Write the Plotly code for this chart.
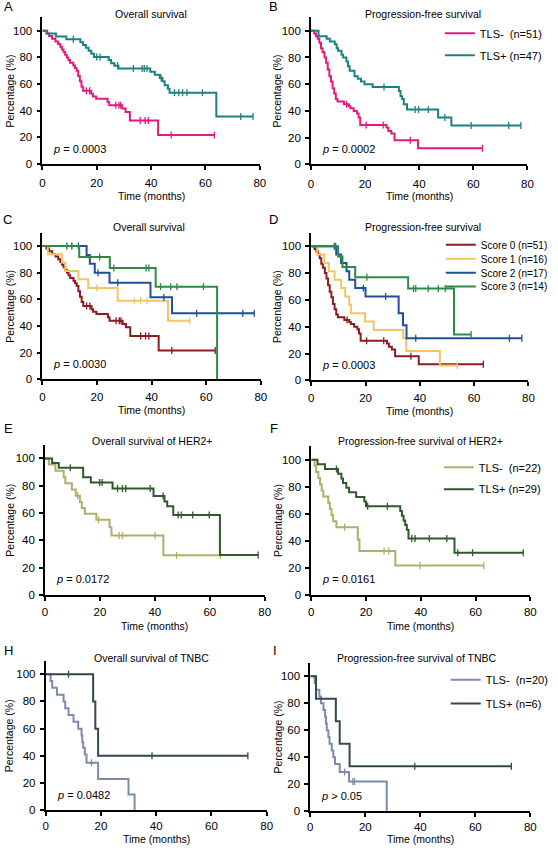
import plotly.graph_objects as go

# ---------------- data ----------------
# Overall survival, TLS- (= Score 0)
os_s0_t = [0, 1.5, 2.5, 3.6, 4.8, 5.8, 6.6, 7.2, 7.8, 8.4, 9.0, 9.6, 10.2, 11.4, 12.0, 12.6, 13.2, 13.8, 14.4, 15.0,
           18.0, 18.6, 19.8, 24.0, 24.6, 29.4, 30.6, 32.2, 42.6]
os_s0_s = [100, 98, 96, 94, 92, 90, 88, 86, 84, 82, 80, 78, 76, 74, 72, 70, 66, 62, 58, 55,
           52.6, 50.6, 49, 46.5, 44, 41.5, 39, 32.5, 21.6]
os_s0_c = [16.2, 17.4, 27.0, 28.2, 28.8, 36.0, 37.8, 39.0, 47.4, 63.3]
os_s0_end = 63.3

# Overall survival, TLS+
os_p_t = [0, 1.8, 5.0, 8.8, 14.0, 15.0, 16.0, 17.0, 18.0, 19.0, 24.4, 25.3, 26.5, 28.0, 39.7, 41.4, 43.2, 44.2,
          45.0, 46.2, 46.8, 64.0]
os_p_s = [100, 97.9, 95.7, 93.6, 91.4, 89.3, 87.2, 85.0, 82.7, 80.3, 78.0, 75.6, 73.8, 71.6, 69.3, 66.9, 64.5, 62.0,
          59.0, 56.5, 53.5, 35.6]
os_p_c = [11.4, 20.0, 21.2, 27.7, 33.5, 36.7, 37.5, 38.5, 43.7, 48.6, 50.2, 51.6, 53.2, 58.9, 73.0, 77.5]
os_p_end = 77.5

# PFS, TLS- (= Score 0)
pfs_s0_t = [0, 1.2, 1.9, 2.5, 3.1, 3.7, 4.3, 5.0, 5.6, 6.2, 6.8, 7.4, 8.0, 8.6, 9.2, 9.8, 12.2, 14.0, 14.6, 15.8,
            17.0, 17.6, 18.2, 27.9, 28.6, 29.7, 30.9, 39.6]
pfs_s0_s = [100, 98, 96, 94, 91, 87, 84, 80, 76, 71, 66, 62, 57, 53, 49, 47, 45, 43.5, 42, 40,
            38, 35, 29.5, 27.5, 25, 23, 18, 12]
pfs_s0_c = [13.2, 20.4, 26.7, 36.7, 63.4]
pfs_s0_end = 63.4

# PFS, TLS+
pfs_p_t = [0, 2.8, 5.8, 7.0, 8.8, 9.5, 10.0, 11.3, 11.9, 13.1, 13.7, 14.3, 16.1, 17.3, 18.5, 19.8, 22.8, 32.5,
           33.1, 33.7, 34.3, 35.5, 47.0, 51.9]
pfs_p_s = [100, 96, 94, 92, 90, 87, 85, 82, 80, 77, 73.5, 70, 66, 64, 62, 60, 58, 55,
           51, 49, 45, 41, 35, 29]
pfs_p_c = [27.0, 38.5, 39.8, 43.4, 49.5, 59.2, 73.1, 77.6]
pfs_p_end = 77.6

# OS by score
os_s1_t = [0, 2.0, 7.2, 8.4, 13.2, 16.8, 27.6, 46.0]
os_s1_s = [100, 93.8, 87.5, 81.3, 75.0, 68.5, 59.0, 44.0]
os_s1_c = [19.9, 33.6, 36.0, 38.4, 54.0]
os_s1_end = 54.0

os_s2_t = [0, 16.2, 17.4, 19.2, 24.6, 39.6, 47.5]
os_s2_s = [100, 93.3, 86.6, 80.0, 72.5, 61.5, 49.5]
os_s2_c = [9.0, 10.8, 13.2, 20.4, 27.6, 44.5, 56.5, 73.4, 77.6]
os_s2_end = 77.6

os_s3_t = [0, 13.5, 24.7, 41.5, 64.0]
os_s3_s = [100, 91.7, 83.4, 69.5, 0]
os_s3_c = [21.0, 26.2, 38.0, 39.0, 43.3, 47.0, 49.3, 59.0]
os_s3_end = 64.0

# PFS by score
pfs_s1_t = [0, 2.2, 4.8, 6.5, 8.6, 11.0, 12.5, 14.0, 14.6, 19.8, 23.0, 33.9, 35.0, 47.4]
pfs_s1_s = [100, 93.8, 87.5, 81.3, 75.0, 68.8, 62.5, 56.3, 50.0, 43.8, 37.5, 31.3, 21.9, 11.0]
pfs_s1_c = [53.8]
pfs_s1_end = 53.8

pfs_s2_t = [0, 9.2, 11.0, 13.0, 14.0, 16.2, 20.0, 32.2, 33.8, 35.1]
pfs_s2_s = [100, 93.8, 87.5, 81.3, 75.0, 68.8, 62.5, 50.0, 41.0, 31.3]
pfs_s2_c = [8.5, 19.2, 27.4, 38.5, 73.0, 77.6]
pfs_s2_end = 77.6

pfs_s3_t = [0, 9.9, 11.5, 16.2, 35.7, 52.6]
pfs_s3_s = [100, 92.3, 84.6, 76.9, 68.4, 34.2]
pfs_s3_c = [9.0, 20.5, 37.7, 38.5, 43.1, 46.8, 49.4, 58.9]
pfs_s3_end = 58.9

# HER2+ OS
her_os_n_t = [0, 1.4, 3.8, 6.8, 7.4, 9.8, 11.2, 12.7, 13.4, 14.5, 18.7, 23.5, 24.2, 43.1]
her_os_n_s = [100, 95.5, 90.9, 86.4, 81.8, 77.3, 72.7, 68.0, 63.7, 59.5, 55.0, 49.5, 43.5, 29.0]
her_os_n_c = [11.9, 19.5, 27.0, 28.2, 40.1, 47.9, 63.9]
her_os_n_end = 63.9

her_os_p_t = [0, 2.6, 5.0, 13.9, 16.7, 24.6, 39.5, 43.5, 44.5, 46.7, 63.7]
her_os_p_s = [100, 96.6, 93.1, 86.2, 82.4, 78.0, 72.5, 68.5, 65.0, 58.5, 29.2]
her_os_p_c = [9.2, 19.9, 20.8, 26.4, 28.2, 29.4, 38.3, 43.0, 48.5, 49.6, 53.8, 59.8, 77.6]
her_os_p_end = 77.6

# HER2+ PFS
her_pfs_n_t = [0, 1.2, 1.8, 2.6, 3.2, 3.8, 4.4, 6.2, 6.8, 7.4, 8.0, 9.2, 17.0, 17.6, 30.7]
her_pfs_n_s = [100, 95.5, 90.9, 86.4, 81.8, 77.3, 72.7, 68.2, 63.6, 59.1, 54.5, 50.0, 41.0, 32.5, 21.7]
her_pfs_n_c = [12.2, 26.6, 28.3, 39.7, 63.0]
her_pfs_n_end = 63.0

her_pfs_p_t = [0, 2.3, 5.0, 9.8, 11.0, 11.6, 12.8, 13.8, 16.4, 19.4, 20.0, 32.5, 33.1, 33.7, 34.3, 34.9, 35.5, 52.3]
her_pfs_p_s = [100, 96.6, 93.1, 89.7, 86.2, 82.8, 79.3, 75.9, 72.4, 69.0, 65.5, 62.0, 58.6, 55.1, 51.7, 48.2, 41.6, 31.2]
her_pfs_p_c = [9.2, 20.6, 27.8, 36.7, 37.9, 43.1, 49.5, 53.5, 58.9, 77.4]
her_pfs_p_end = 77.4

# TNBC OS
tn_os_n_t = [0, 1.8, 2.4, 4.1, 6.5, 7.1, 8.3, 10.1, 11.8, 13.0, 13.3, 13.6, 14.2, 14.8, 19.0, 30.0, 32.2]
tn_os_n_s = [100, 95, 90, 85, 80, 75, 70, 65, 60, 55, 50, 46, 41, 35, 23, 11.5, 0]
tn_os_n_c = [16.6]
tn_os_n_end = 32.2

tn_os_p_t = [0, 17.2, 18.0, 19.0]
tn_os_p_s = [100, 80, 60, 40]
tn_os_p_c = [8.3, 38.5, 73.2]
tn_os_p_end = 73.2

# TNBC PFS
tn_pfs_n_t = [0, 1.6, 2.1, 3.3, 3.9, 4.8, 5.4, 5.7, 6.0, 6.6, 7.0, 7.8, 8.4, 9.0, 10.7, 14.1, 27.8]
tn_pfs_n_s = [100, 95, 90, 85, 80, 75, 70, 65, 60, 55, 50, 45, 40, 35, 29, 22, 0]
tn_pfs_n_c = [12.5, 15.5, 16.1]
tn_pfs_n_end = 27.8

tn_pfs_p_t = [0, 2.1, 9.3, 10.7, 14.3]
tn_pfs_p_s = [100, 83.3, 66.7, 50.0, 33.3]
tn_pfs_p_c = [38.0, 73.1]
tn_pfs_p_end = 73.1

x_ticks = [0, 20, 40, 60, 80]
y_ticks = [0, 20, 40, 60, 80, 100]

# ---------------- style ----------------
FONT = "Liberation Sans, Arial, sans-serif"
W, H = 558, 853
PINK, TEAL = "#E4197C", "#1F8080"
S0, S1, S2, S3 = "#8C1C1F", "#F5C463", "#1F4F9A", "#2E8B45"
KHAKI, DGREEN = "#B0AE6A", "#2F5A2B"
GREYBLUE, SLATE = "#7D8AA8", "#34484C"


def px(x):
    return x / W


def py(y):
    return 1 - y / H


def step_at(t, s, c):
    v = s[0]
    for ti, si in zip(t, s):
        if ti <= c:
            v = si
        else:
            break
    return v


panels = [
    dict(letter="A", lxy=(6, 7), x0=40, x1=261, yb=165, y100=31, title="Overall survival", txy=(150, 14),
         p="<i>p</i> = 0.0003", xt=197, so=4, ytx=7, legend=None,
         curves=[("TLS-\u00a0 (n=51)", os_s0_t, os_s0_s, os_s0_c, os_s0_end, PINK),
                 ("TLS+ (n=47)", os_p_t, os_p_s, os_p_c, os_p_end, TEAL)]),
    dict(letter="B", lxy=(275, 7), x0=313, x1=533, yb=165.5, y100=31, title="Progression-free survival",
         txy=(427, 14), p="<i>p</i> = 0.0002", xt=197, so=4, ytx=278,
         legend=dict(x=484, rows=[32, 54], size=11),
         curves=[("TLS-\u00a0 (n=51)", pfs_s0_t, pfs_s0_s, pfs_s0_c, pfs_s0_end, PINK),
                 ("TLS+ (n=47)", pfs_p_t, pfs_p_s, pfs_p_c, pfs_p_end, TEAL)]),
    dict(letter="C", lxy=(5, 221), x0=40, x1=262, yb=382, y100=247.7, title="Overall survival", txy=(148, 229),
         p="<i>p</i> = 0.0030", xt=413, so=2, ytx=7, legend=None,
         curves=[("Score 0 (n=51)", os_s0_t, os_s0_s, os_s0_c, os_s0_end, S0),
                 ("Score 1 (n=16)", os_s1_t, os_s1_s, os_s1_c, os_s1_end, S1),
                 ("Score 2 (n=17)", os_s2_t, os_s2_s, os_s2_c, os_s2_end, S2),
                 ("Score 3 (n=14)", os_s3_t, os_s3_s, os_s3_c, os_s3_end, S3)]),
    dict(letter="D", lxy=(275, 221), x0=313.3, x1=534, yb=383, y100=248, title="Progression-free survival",
         txy=(427, 229), p="<i>p</i> = 0.0003", xt=414, so=2, ytx=278,
         legend=dict(x=485, rows=[245, 259, 273, 287], size=10),
         curves=[("Score 0 (n=51)", pfs_s0_t, pfs_s0_s, pfs_s0_c, pfs_s0_end, S0),
                 ("Score 1 (n=16)", pfs_s1_t, pfs_s1_s, pfs_s1_c, pfs_s1_end, S1),
                 ("Score 2 (n=17)", pfs_s2_t, pfs_s2_s, pfs_s2_c, pfs_s2_end, S2),
                 ("Score 3 (n=14)", pfs_s3_t, pfs_s3_s, pfs_s3_c, pfs_s3_end, S3)]),
    dict(letter="E", lxy=(6, 432), x0=42.7, x1=266, yb=599, y100=461.7, title="Overall survival of HER2+",
         txy=(152, 444), p="<i>p</i> = 0.0172", xt=630, so=2, ytx=7, legend=None,
         curves=[("TLS-\u00a0 (n=22)", her_os_n_t, her_os_n_s, her_os_n_c, her_os_n_end, KHAKI),
                 ("TLS+ (n=29)", her_os_p_t, her_os_p_s, her_os_p_c, her_os_p_end, DGREEN)]),
    dict(letter="F", lxy=(275, 432), x0=313.3, x1=536, yb=599, y100=463, title="Progression-free survival of HER2+",
         txy=(424, 444), p="<i>p</i> = 0.0161", xt=630, so=2, ytx=279,
         legend=dict(x=483, rows=[469, 491], size=11),
         curves=[("TLS-\u00a0 (n=22)", her_pfs_n_t, her_pfs_n_s, her_pfs_n_c, her_pfs_n_end, KHAKI),
                 ("TLS+ (n=29)", her_pfs_p_t, her_pfs_p_s, her_pfs_p_c, her_pfs_p_end, DGREEN)]),
    dict(letter="H", lxy=(6, 655), x0=43.3, x1=268, yb=816, y100=679, title="Overall survival of TNBC",
         txy=(151, 663), p="<i>p</i> = 0.0482", xt=845, so=0, ytx=7, legend=None,
         curves=[("TLS-\u00a0 (n=20)", tn_os_n_t, tn_os_n_s, tn_os_n_c, tn_os_n_end, GREYBLUE),
                 ("TLS+ (n=6)", tn_os_p_t, tn_os_p_s, tn_os_p_c, tn_os_p_end, SLATE)]),
    dict(letter="I", lxy=(276, 655), x0=312.3, x1=536, yb=817, y100=681, title="Progression-free survival of TNBC",
         txy=(421, 663), p="<i>p</i> > 0.05", xt=845, so=0, ytx=279,
         legend=dict(x=490, rows=[683, 707], size=11),
         curves=[("TLS-\u00a0 (n=20)", tn_pfs_n_t, tn_pfs_n_s, tn_pfs_n_c, tn_pfs_n_end, GREYBLUE),
                 ("TLS+ (n=6)", tn_pfs_p_t, tn_pfs_p_s, tn_pfs_p_c, tn_pfs_p_end, SLATE)]),
]

fig = go.Figure()
annotations = []
layout = dict(
    width=W, height=H, autosize=False,
    margin=dict(l=0, r=0, t=0, b=0),
    paper_bgcolor="white", plot_bgcolor="white",
    font=dict(family=FONT, size=11, color="black"),
    showlegend=True,
)

legend_count = 0
for i, pnl in enumerate(panels, start=1):
    xa = "x" if i == 1 else f"x{i}"
    ya = "y" if i == 1 else f"y{i}"
    ytop = pnl["yb"] - 1.1 * (pnl["yb"] - pnl["y100"])
    axis_common = dict(showline=True, linecolor="black", linewidth=1.6, ticks="outside", ticklen=4,
                       tickwidth=1.6, tickcolor="black", showgrid=False, zeroline=False,
                       tickfont=dict(family=FONT, size=11.5, color="black"), fixedrange=True)
    layout["xaxis" if i == 1 else f"xaxis{i}"] = dict(
        domain=[px(pnl["x0"]), px(pnl["x1"])], range=[0, 80], tickvals=x_ticks,
        anchor=ya, ticklabelstandoff=pnl["so"], **axis_common)
    layout["yaxis" if i == 1 else f"yaxis{i}"] = dict(
        domain=[py(pnl["yb"]), py(ytop)], range=[0, 110], tickvals=y_ticks,
        anchor=xa, ticklabelstandoff=2, **axis_common)

    leg = pnl["legend"]
    for k, (name, t, s, cens, end, color) in enumerate(pnl["curves"]):
        xs = list(t)
        ys = list(s)
        if end > t[-1]:
            xs.append(end)
            ys.append(s[-1])
        tr = dict(x=xs, y=ys, mode="lines", line=dict(color=color, width=2, shape="hv"),
                  name=name, xaxis=xa, yaxis=ya, hoverinfo="skip")
        if leg is not None:
            legend_count += 1
            lid = "legend" if legend_count == 1 else f"legend{legend_count}"
            tr.update(showlegend=True, legend=lid)
            layout[lid] = dict(x=px(leg["x"] - 40), y=py(leg["rows"][k] - 13), xanchor="left", yanchor="top",
                               bgcolor="rgba(0,0,0,0)", borderwidth=0,
                               font=dict(family=FONT, size=leg["size"], color="black"),
                               itemclick=False, itemdoubleclick=False)
        else:
            tr.update(showlegend=False)
        fig.add_trace(go.Scatter(**tr))
        fig.add_trace(go.Scatter(
            x=cens, y=[step_at(t, s, c) for c in cens], mode="markers",
            marker=dict(symbol="line-ns", size=5, line=dict(color=color, width=1.3)),
            showlegend=False, xaxis=xa, yaxis=ya, hoverinfo="skip", cliponaxis=False))

    # panel letter
    annotations.append(dict(text=pnl["letter"], x=px(pnl["lxy"][0]), y=py(pnl["lxy"][1]), xref="paper",
                            yref="paper", showarrow=False, xanchor="center", yanchor="middle",
                            font=dict(family=FONT, size=13, color="black")))
    # panel title
    annotations.append(dict(text=pnl["title"], x=px(pnl["txy"][0]), y=py(pnl["txy"][1]), xref="paper",
                            yref="paper", showarrow=False, xanchor="center", yanchor="middle",
                            font=dict(family=FONT, size=10.5, color="black")))
    # x title
    annotations.append(dict(text="Time (months)", x=px((pnl["x0"] + pnl["x1"]) / 2), y=py(pnl["xt"]),
                            xref="paper", yref="paper", showarrow=False, xanchor="center",
                            yanchor="middle", font=dict(family=FONT, size=10.5, color="black")))
    # y title
    annotations.append(dict(text="Percentage (%)", x=px(pnl["ytx"]), y=py((pnl["yb"] + ytop) / 2),
                            xref="paper", yref="paper", showarrow=False, xanchor="center",
                            yanchor="middle", textangle=-90, font=dict(family=FONT, size=10.5, color="black")))
    # p value
    annotations.append(dict(text=pnl["p"], x=3.3, y=11.5, xref=xa, yref=ya, showarrow=False,
                            xanchor="left", yanchor="middle", font=dict(family=FONT, size=11, color="black")))

layout["annotations"] = annotations
fig.update_layout(**layout)
fig.write_html("out.html", config={"displayModeBar": False},
               post_script="document.body.style.margin='0';document.body.style.overflow='hidden';")
